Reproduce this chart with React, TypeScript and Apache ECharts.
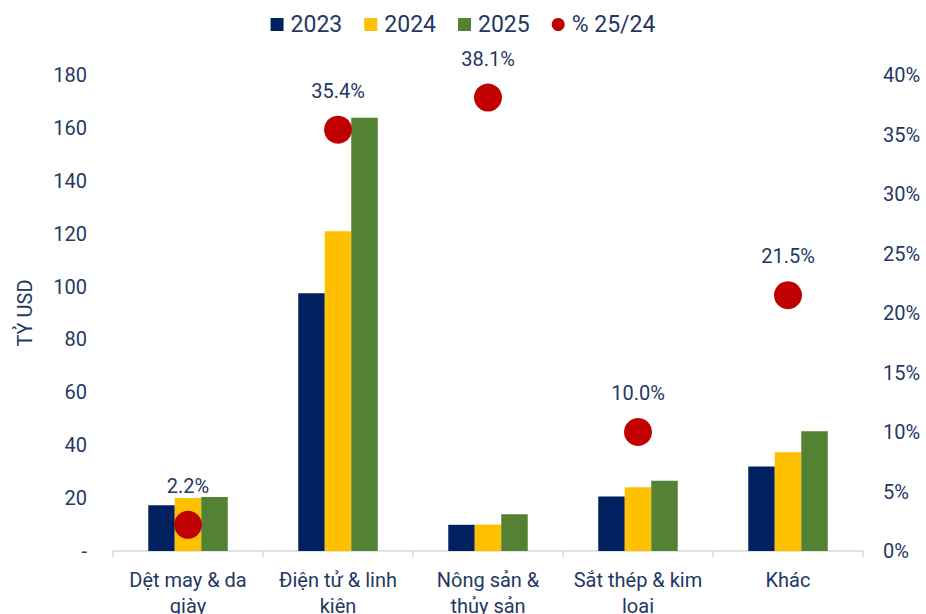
import React, { useEffect, useRef } from "react";
import * as echarts from "echarts";

const categories = [
  "Dệt may & da\ngiày",
  "Điện tử & linh\nkiện",
  "Nông sản &\nthủy sản",
  "Sắt thép & kim\nloại",
  "Khác",
];
const values2023 = [17.3, 97.5, 9.9, 20.6, 32.0];
const values2024 = [20.0, 120.9, 10.0, 24.1, 37.3];
const values2025 = [20.4, 163.8, 13.9, 26.6, 45.3];
const growth2524 = [2.2, 35.4, 38.1, 10.0, 21.5];

const TEXT = "#1F3864";

export default function App() {
  const ref = useRef<HTMLDivElement>(null);
  useEffect(() => {
    if (!ref.current) return;
    const chart = echarts.init(ref.current, null, { renderer: "svg" });
    const font = "Roboto";
    const barBase = {
      type: "bar" as const,
      barWidth: 26.5,
      barGap: "0%",
      barCategoryGap: "46%",
      yAxisIndex: 0,
    };
    chart.setOption({
      animation: false,
      textStyle: { fontFamily: font, color: TEXT },
      legend: {
        top: 8,
        left: "center",
        itemGap: 22,
        itemWidth: 13,
        itemHeight: 13,
        textStyle: { fontSize: 23, color: TEXT, fontFamily: font, padding: [0, 0, 0, 2] },
        data: [
          { name: "2023", icon: "rect" },
          { name: "2024", icon: "rect" },
          { name: "2025", icon: "rect" },
          { name: "% 25/24", icon: "circle" },
        ],
      },
      grid: {
        left: 113,
        right: 63,
        top: 75,
        bottom: 63,
        containLabel: false,
        outerBoundsMode: "none",
      },
      xAxis: {
        type: "category",
        data: categories,
        axisLine: { lineStyle: { color: "#D9D9D9", width: 1.5 } },
        axisTick: { show: true, length: 6, lineStyle: { color: "#D9D9D9", width: 1.5 } },
        axisLabel: {
          color: TEXT,
          fontSize: 20,
          fontFamily: font,
          lineHeight: 26,
          margin: 16,
          interval: 0,
        },
      },
      yAxis: [
        {
          type: "value",
          min: 0,
          max: 180,
          interval: 20,
          name: "TỶ USD",
          nameLocation: "middle",
          nameGap: 78,
          nameRotate: 90,
          nameTextStyle: { color: TEXT, fontSize: 20, fontFamily: font },
          splitLine: { show: false },
          axisLine: { show: false },
          axisTick: { show: false },
          axisLabel: {
            color: TEXT,
            fontSize: 20,
            fontFamily: font,
            margin: 26,
            formatter: (v: number) => (v === 0 ? "-" : String(v)),
          },
        },
        {
          type: "value",
          min: 0,
          max: 40,
          interval: 5,
          splitLine: { show: false },
          axisLine: { show: false },
          axisTick: { show: false },
          axisLabel: {
            color: TEXT,
            fontSize: 20,
            fontFamily: font,
            margin: 20,
            formatter: "{value}%",
          },
        },
      ],
      series: [
        { ...barBase, name: "2023", data: values2023, itemStyle: { color: "#002060" } },
        { ...barBase, name: "2024", data: values2024, itemStyle: { color: "#FFC000" } },
        { ...barBase, name: "2025", data: values2025, itemStyle: { color: "#548235" } },
        {
          type: "scatter",
          name: "% 25/24",
          yAxisIndex: 1,
          data: growth2524,
          symbolSize: 28,
          z: 5,
          itemStyle: { color: "#C00000", opacity: 1 },
          label: {
            show: true,
            position: "top",
            distance: 15,
            color: TEXT,
            fontSize: 20,
            fontFamily: font,
            formatter: (p: any) => `${Number(p.value).toFixed(1)}%`,
          },
        },
      ],
    });
    return () => chart.dispose();
  }, []);
  return <div ref={ref} style={{ width: 926, height: 614, position: "absolute", left: 0, top: 0 }} />;
}
